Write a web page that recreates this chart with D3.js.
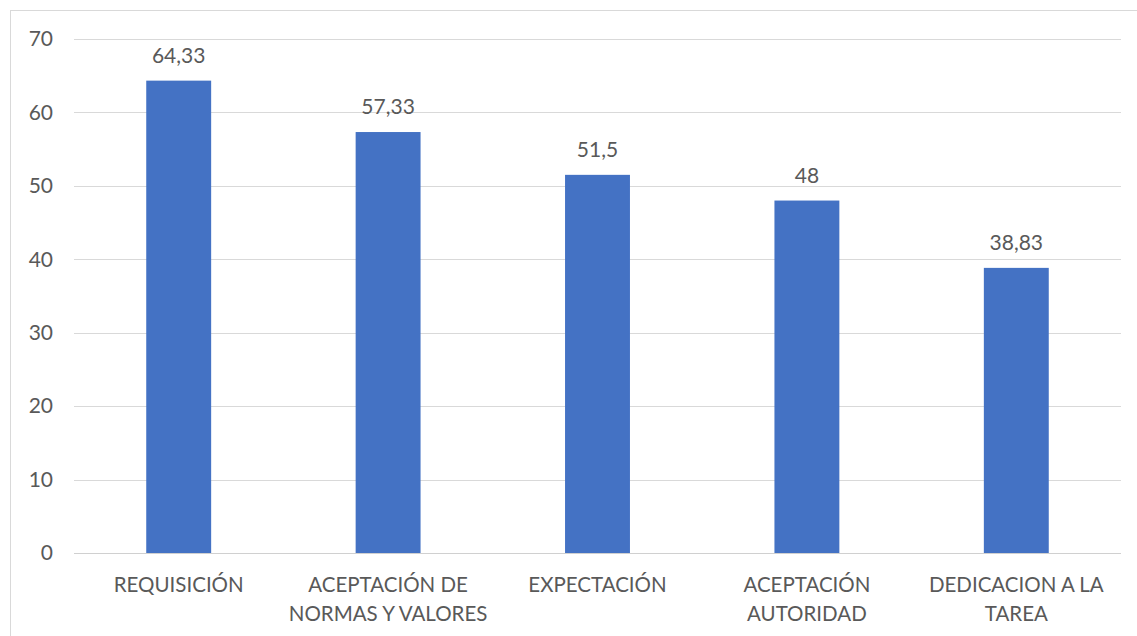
<!DOCTYPE html>
<html>
<head>
<meta charset="utf-8">
<script src="https://cdn.jsdelivr.net/npm/d3@7"></script>
<style>
  html, body { margin: 0; padding: 0; background: #fff; }
  svg { display: block; }
  text { font-family: Lato, "Open Sans", sans-serif; fill: #595959; }
</style>
</head>
<body>
<svg id="chart" width="1137" height="636"></svg>
<script>
// Puntajes por dimensión
const categories = [
  ["REQUISICIÓN"],
  ["ACEPTACIÓN DE", "NORMAS Y VALORES"],
  ["EXPECTACIÓN"],
  ["ACEPTACIÓN", "AUTORIDAD"],
  ["DEDICACION A LA", "TAREA"]
];
const values = [64.33, 57.33, 51.5, 48, 38.83];
const valueLabels = ["64,33", "57,33", "51,5", "48", "38,83"];
const yTicks = [0, 10, 20, 30, 40, 50, 60, 70];

const svg = d3.select("#chart");
const plot = { left: 74, right: 1121, top: 39, bottom: 553 };

// outer frame of the chart area
svg.append("rect")
  .attr("x", 10.5).attr("y", 10.5)
  .attr("width", 1140).attr("height", 640)
  .attr("fill", "none").attr("stroke", "#d9d9d9").attr("stroke-width", 1);

const x = d3.scaleBand()
  .domain(d3.range(values.length))
  .range([plot.left, plot.right])
  .padding(0);

const y = d3.scaleLinear().domain([0, 70]).range([plot.bottom, plot.top]);

// horizontal gridlines
svg.append("g").selectAll("line")
  .data(yTicks)
  .join("line")
  .attr("x1", plot.left).attr("x2", plot.right)
  .attr("y1", d => Math.round(y(d)) + 0.5).attr("y2", d => Math.round(y(d)) + 0.5)
  .attr("stroke", d => d === 0 ? "#d0d0d0" : "#d9d9d9")
  .attr("stroke-width", 1);

// y axis labels
const yAxis = d3.axisLeft(y).tickValues(yTicks).tickSize(0).tickPadding(0);
const yg = svg.append("g").attr("transform", `translate(${53},0)`).call(yAxis);
yg.select(".domain").remove();
yg.selectAll("text")
  .attr("font-size", 21)
  .style("font-family", "Lato, 'Open Sans', sans-serif")
  .attr("fill", "#595959");

// bars
const barW = x.bandwidth() * 0.31;
svg.append("g").selectAll("rect")
  .data(values)
  .join("rect")
  .attr("x", (d, i) => x(i) + (x.bandwidth() - barW) / 2)
  .attr("y", d => y(d))
  .attr("width", barW)
  .attr("height", d => y(0) - y(d))
  .attr("fill", "#4472c4");

// value labels
svg.append("g").selectAll("text")
  .data(values)
  .join("text")
  .attr("x", (d, i) => x(i) + x.bandwidth() / 2)
  .attr("y", d => y(d) - 18)
  .attr("text-anchor", "middle")
  .attr("font-size", 21)
  .text((d, i) => valueLabels[i]);

// category labels
const cat = svg.append("g").selectAll("text")
  .data(categories)
  .join("text")
  .attr("text-anchor", "middle")
  .attr("font-size", 20.5)
  .attr("transform", (d, i) => `translate(${x(i) + x.bandwidth() / 2},${591.5})`);
cat.selectAll("tspan")
  .data(d => d)
  .join("tspan")
  .attr("x", 0)
  .attr("dy", (d, j) => j === 0 ? 0 : 29)
  .text(d => d);
</script>
</body>
</html>
